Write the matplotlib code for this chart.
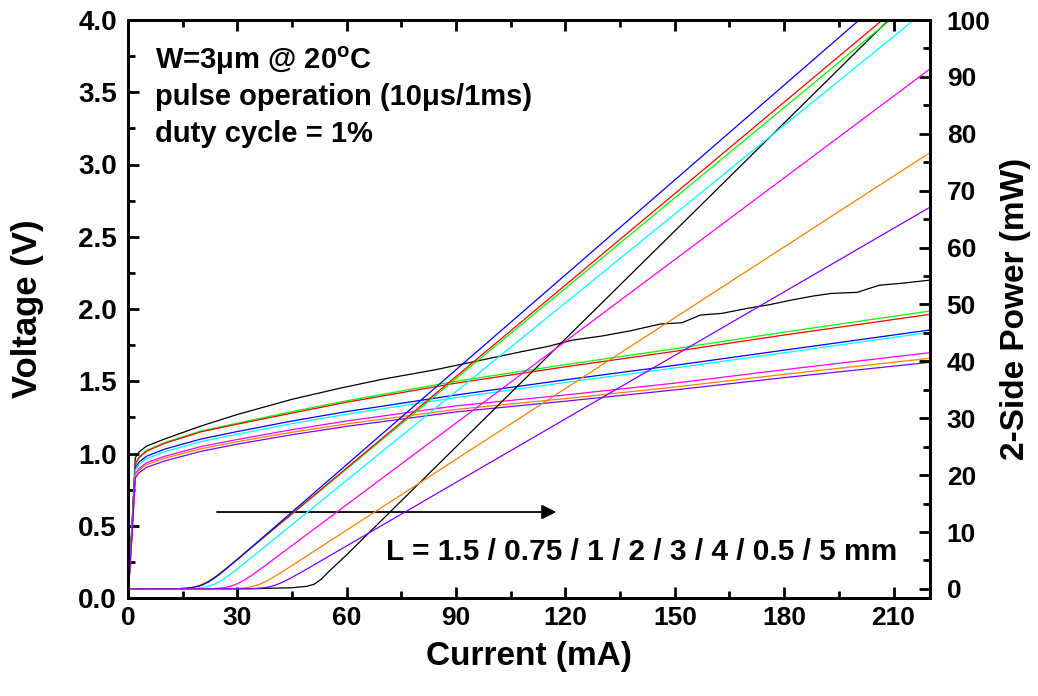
import matplotlib
matplotlib.use("Agg")
import matplotlib.pyplot as plt
from matplotlib.ticker import MultipleLocator, FormatStrFormatter

plt.rcParams['font.family'] = ['Liberation Sans', 'DejaVu Sans']
plt.rcParams['font.weight'] = 'bold'
plt.rcParams['mathtext.fontset'] = 'custom'
plt.rcParams['mathtext.rm'] = 'Liberation Sans:bold'
plt.rcParams['mathtext.default'] = 'rm'

# ---------------- data ----------------
colors = ['#000000', '#00FF00', '#FF0000', '#0000FF', '#00FFFF', '#FF00FF', '#FF8000', '#8000FF']

# I-V curves (left axis, V)
I_iv = [0, 1, 2, 3, 5, 10, 20, 30, 45, 60, 90, 120, 150, 180, 220]
V_green = [0, 0.45, 0.93, 0.975, 1.02, 1.075, 1.155, 1.21, 1.29, 1.365, 1.50, 1.615, 1.725, 1.84, 1.986]
V_red = [0, 0.44, 0.925, 0.97, 1.015, 1.07, 1.15, 1.203, 1.28, 1.355, 1.487, 1.60, 1.707, 1.82, 1.963]
V_blue = [0, 0.43, 0.90, 0.94, 0.98, 1.03, 1.10, 1.152, 1.225, 1.29, 1.405, 1.51, 1.61, 1.715, 1.855]
V_cyan = [0, 0.42, 0.885, 0.925, 0.963, 1.012, 1.082, 1.134, 1.207, 1.272, 1.387, 1.492, 1.592, 1.697, 1.839]
V_magenta = [0, 0.41, 0.86, 0.895, 0.935, 0.98, 1.048, 1.097, 1.165, 1.225, 1.33, 1.405, 1.487, 1.58, 1.698]
V_orange = [0, 0.40, 0.85, 0.885, 0.922, 0.967, 1.033, 1.082, 1.147, 1.205, 1.305, 1.38, 1.46, 1.548, 1.659]
V_purple = [0, 0.39, 0.83, 0.866, 0.903, 0.948, 1.015, 1.065, 1.13, 1.188, 1.288, 1.362, 1.44, 1.525, 1.631]

I_iv_black = [0, 1, 2, 3, 5, 10, 20, 30, 45, 58, 70, 84, 95, 108, 115, 122, 130, 138, 146,
              152, 157, 163, 170, 176, 182, 188, 193, 200, 206, 213, 220]
V_black = [0, 0.47, 0.97, 1.01, 1.05, 1.10, 1.19, 1.27, 1.375, 1.451, 1.515, 1.578, 1.636, 1.705,
           1.74, 1.785, 1.813, 1.85, 1.896, 1.905, 1.958, 1.97, 2.005, 2.03, 2.062, 2.09, 2.108,
           2.115, 2.164, 2.18, 2.20]

# L-I curves (right axis, mW)
I_li_black = [0, 35, 45, 49, 51, 53, 55, 60, 220]
P_black = [0, 0.05, 0.2, 0.45, 0.8, 1.7, 3.0, 6.0, 107.2]
I_li_green = [0, 14, 16, 18, 20, 22, 24, 26, 30, 220]
P_green = [0, 0.047, 0.12, 0.30, 0.68, 1.32, 2.17, 3.13, 5.21, 105.8]
I_li_red = [0, 14, 16, 18, 20, 22, 24, 26, 30, 220]
P_red = [0, 0.043, 0.11, 0.28, 0.65, 1.26, 2.11, 3.09, 5.19, 107.0]
I_li_blue = [0, 14, 16, 18, 20, 22, 24, 26, 30, 220]
P_blue = [0, 0.038, 0.10, 0.26, 0.59, 1.19, 2.03, 3.02, 5.18, 110.8]
I_li_cyan = [0, 16, 18, 20, 22, 24, 26, 28, 32, 220]
P_cyan = [0, 0.027, 0.071, 0.18, 0.44, 0.92, 1.64, 2.54, 4.54, 102.3]
I_li_magenta = [0, 22, 24, 26, 28, 30, 32, 34, 38, 220]
P_magenta = [0, 0.027, 0.072, 0.185, 0.436, 0.90, 1.58, 2.42, 4.27, 91.4]
I_li_orange = [0, 28, 30, 32, 34, 36, 38, 40, 44, 220]
P_orange = [0, 0.023, 0.062, 0.16, 0.378, 0.78, 1.37, 2.10, 3.70, 76.7]
I_li_purple = [0, 32, 34, 36, 38, 40, 42, 44, 48, 220]
P_purple = [0, 0.016, 0.042, 0.11, 0.26, 0.57, 1.06, 1.68, 3.10, 67.1]

x_ticks = [0, 30, 60, 90, 120, 150, 180, 210]

iv_sets = [(I_iv_black, V_black), (I_iv, V_green), (I_iv, V_red), (I_iv, V_blue),
           (I_iv, V_cyan), (I_iv, V_magenta), (I_iv, V_orange), (I_iv, V_purple)]
li_sets = [(I_li_black, P_black), (I_li_green, P_green), (I_li_red, P_red), (I_li_blue, P_blue),
           (I_li_cyan, P_cyan), (I_li_magenta, P_magenta), (I_li_orange, P_orange),
           (I_li_purple, P_purple)]

# ---------------- figure ----------------
fig = plt.figure(figsize=(10.38, 6.96), dpi=100)
ax = fig.add_axes([128 / 1038, 98 / 696, 802 / 1038, 578 / 696])
ax2 = ax.twinx()

for (x, y), c in zip(iv_sets, colors):
    ax.plot(x, y, color=c, lw=0.9)
for (x, y), c in zip(li_sets, colors):
    ax2.plot(x, y, color=c, lw=0.9)

ax.set_xlim(0, 220)
ax.set_ylim(0, 4.0)
ax2.set_ylim(-1.6, 100)

ax.set_xticks(x_ticks)
ax.xaxis.set_minor_locator(MultipleLocator(15))
ax.yaxis.set_major_locator(MultipleLocator(0.5))
ax.yaxis.set_minor_locator(MultipleLocator(0.25))
ax.yaxis.set_major_formatter(FormatStrFormatter('%.1f'))
ax2.set_yticks(range(0, 101, 10))
ax2.yaxis.set_minor_locator(MultipleLocator(5))

for a in (ax, ax2):
    for s in a.spines.values():
        s.set_linewidth(2.0)

ax.tick_params(axis='x', which='both', direction='in', top=True, bottom=True, width=2.0, pad=6)
ax.tick_params(axis='x', which='major', length=8, labelsize=19)
ax.tick_params(axis='x', which='minor', length=5)
ax.tick_params(axis='y', which='both', direction='in', left=True, right=False, width=2.0, pad=8)
ax.tick_params(axis='y', which='major', length=8, labelsize=20)
ax.tick_params(axis='y', which='minor', length=5)
ax2.tick_params(axis='y', which='both', direction='in', right=True, width=2.0, pad=12)
ax2.tick_params(axis='y', which='major', length=8, labelsize=19)
ax2.tick_params(axis='y', which='minor', length=5)

for lab in ax.get_xticklabels() + ax.get_yticklabels() + ax2.get_yticklabels():
    lab.set_fontweight('bold')

ax.set_xlabel('Current (mA)', fontsize=24, fontweight='bold')
ax.set_ylabel('Voltage (V)', fontsize=25, fontweight='bold')
ax2.set_ylabel('2-Side Power (mW)', fontsize=24, fontweight='bold')
ax.xaxis.set_label_coords(0.5, -0.074)
ax.yaxis.set_label_coords(-0.105, 0.5)
ax2.yaxis.set_label_coords(1.087, 0.5)

# annotations
ax.text(7.4, 3.72, r'W=3μm @ 20$^{\mathrm{o}}$C', fontsize=21, fontweight='bold', va='center', ha='left')
ax.text(7.4, 3.465, 'pulse operation (10μs/1ms)', fontsize=21, fontweight='bold', va='center', ha='left')
ax.text(7.4, 3.21, 'duty cycle = 1%', fontsize=21, fontweight='bold', va='center', ha='left')
ax.text(70.8, 0.318, 'L = 1.5 / 0.75 / 1 / 2 / 3 / 4 / 0.5 / 5 mm', fontsize=21.5,
        fontweight='bold', va='center', ha='left')
ax.annotate('', xy=(117.5, 0.595), xytext=(24.4, 0.595),
            arrowprops=dict(arrowstyle='-|>', lw=1.3, color='k', mutation_scale=22, shrinkA=0, shrinkB=0))

fig.savefig('out.png', dpi=100)
